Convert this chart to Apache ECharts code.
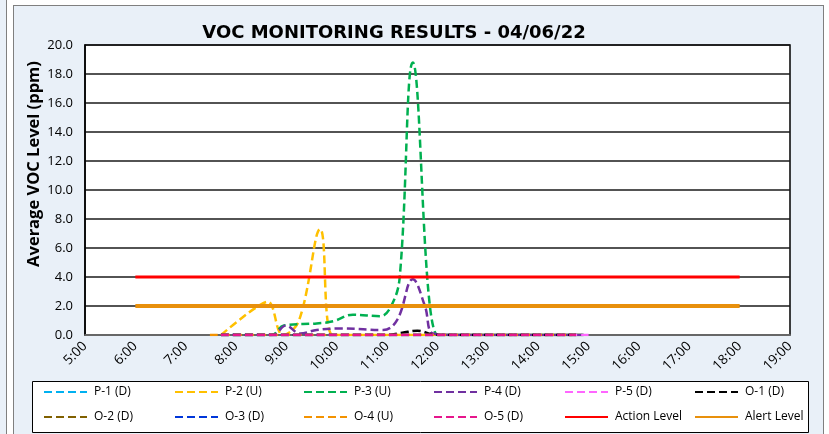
<!DOCTYPE html>
<html>
<head>
<meta charset="utf-8">
<script src="https://cdn.jsdelivr.net/npm/echarts@6/dist/echarts.min.js"></script>
<style>
  body { margin: 0; background: #fff; overflow: hidden; }
  #strip { position: absolute; left: -1px; top: -1px; width: 6px; height: 500px; background: #e9f0f8; border: 1px solid #7f7f7f; }
  #chart { position: absolute; left: 13px; top: 5px; width: 809px; height: 440px; background: #e9f0f8; border: 1px solid #7f7f7f; }
</style>
</head>
<body>
<div id="strip"></div>
<div id="chart"></div>
<script>
// hours as decimals, values in ppm
const p1 = [[7.7, 0], [14.9, 0]];
const p2 = [[7.7, 0], [8.05, 1.0], [8.4, 1.9], [8.63, 2.3], [8.93, 0], [9.25, 1.0], [9.67, 7.3], [9.92, 0], [10.3, 0], [14.9, 0]];
const p3 = [[7.7, 0], [8.7, 0], [8.95, 0.65], [9.6, 0.8], [9.93, 0.95], [10.32, 1.4], [10.86, 1.3], [11.08, 2.0], [11.25, 4.0], [11.51, 18.8], [12.0, 0], [12.3, 0], [14.9, 0]];
const p4 = [[7.7, 0], [8.73, 0], [8.99, 0.65], [9.27, 0.1], [9.6, 0.35], [10.06, 0.45], [10.92, 0.35], [11.2, 1.05], [11.51, 3.85], [11.75, 2.0], [11.91, 0.1], [12.3, 0], [14.9, 0]];
const p5 = [[7.7, 0], [15.0, 0]];
const o1 = [[7.7, 0], [11.0, 0], [11.3, 0.15], [11.6, 0.3], [11.9, 0.05], [12.2, 0], [14.75, 0]];
const o2 = [[7.7, 0], [14.75, 0]];
const o3 = [[7.7, 0], [14.75, 0]];
const o4 = [[7.48, 0], [14.75, 0]];
const o5 = [[7.7, 0], [14.75, 0]];
const actionLevel = [[6, 4], [18, 4]];
const alertLevel = [[6, 2], [18, 2]];

const hourTicks = [5, 6, 7, 8, 9, 10, 11, 12, 13, 14, 15, 16, 17, 18, 19];
const yTicks = [0, 2, 4, 6, 8, 10, 12, 14, 16, 18, 20];

const dashed = [
  { name: "P-1 (D)", data: p1, color: "#00b0f0" },
  { name: "P-2 (U)", data: p2, color: "#ffc000" },
  { name: "P-3 (U)", data: p3, color: "#00b050" },
  { name: "P-4 (D)", data: p4, color: "#7030a0" },
  { name: "P-5 (D)", data: p5, color: "#ff66ff" },
  { name: "O-1 (D)", data: o1, color: "#000000" },
  { name: "O-2 (D)", data: o2, color: "#806000" },
  { name: "O-3 (D)", data: o3, color: "#0036d9" },
  { name: "O-4 (U)", data: o4, color: "#f39200" },
  { name: "O-5 (D)", data: o5, color: "#e6168c" },
];

const legendColumns = [
  ["P-1 (D)", "O-2 (D)"],
  ["P-2 (U)", "O-3 (D)"],
  ["P-3 (U)", "O-4 (U)"],
  ["P-4 (D)", "O-5 (D)"],
  ["P-5 (D)", "Action Level"],
  ["O-1 (D)", "Alert Level"],
];
const legendLeft = [29, 160, 289, 419, 550, 680];

const font = "Open Sans";

const renderChart = () => {
  const myChart = echarts.init(document.getElementById("chart"));

  const series = dashed.map((s) => ({
    name: s.name,
    type: "line",
    data: s.data,
    smooth: 0.4,
    symbol: "none",
    color: s.color,
    lineStyle: { color: s.color, width: 2.5, type: [8, 4] },
    emphasis: { disabled: true },
  }));
  series.push({
    name: "Action Level",
    type: "line",
    data: actionLevel,
    symbol: "none",
    color: "#ff0000",
    lineStyle: { color: "#ff0000", width: 3 },
    emphasis: { disabled: true },
  });
  series.push({
    name: "Alert Level",
    type: "line",
    data: alertLevel,
    symbol: "none",
    color: "#e8900c",
    lineStyle: { color: "#e8900c", width: 4 },
    emphasis: { disabled: true },
  });

  // one legend per column so the columns line up like the original
  const legends = legendColumns.map((col, i) => ({
    orient: "vertical",
    left: legendLeft[i],
    top: 380,
    itemWidth: 43,
    itemHeight: 14,
    itemGap: 13,
    padding: 0,
    data: col,
    itemStyle: { opacity: 0 },
    textStyle: { fontFamily: font, fontSize: 12, color: "#000", padding: [0, 0, 0, 2] },
  }));

  const option = {
    animation: false,
    backgroundColor: "transparent",
    title: {
      text: "VOC MONITORING RESULTS - 04/06/22",
      left: 375,
      top: 13,
      textAlign: "center",
      textStyle: { fontFamily: "DejaVu Sans", fontSize: 18, fontWeight: "bold", color: "#000" },
    },
    graphic: [
      {
        type: "rect",
        shape: { x: 18.5, y: 375.5, width: 776, height: 51 },
        style: { fill: "#fff", stroke: "#000", lineWidth: 1 },
        z: -1,
      },
      {
        type: "text",
        x: 20,
        y: 158,
        rotation: Math.PI / 2,
        style: {
          text: "Average VOC Level (ppm)",
          fontFamily: font,
          fontSize: 16.5,
          fontWeight: "bold",
          fill: "#000",
          align: "center",
          verticalAlign: "middle",
        },
      },
    ],
    legend: legends,
    grid: {
      left: 71,
      top: 39,
      width: 705,
      height: 290,
      show: true,
      backgroundColor: "#fff",
      borderColor: "#000",
      borderWidth: 1.5,
    },
    xAxis: {
      type: "value",
      min: hourTicks[0],
      max: hourTicks[hourTicks.length - 1],
      interval: 1,
      axisLine: { lineStyle: { color: "#7f7f7f", width: 1.5 } },
      axisTick: { show: false },
      splitLine: { show: false },
      axisLabel: {
        rotate: 45,
        margin: 9,
        fontFamily: font,
        fontSize: 13.5,
        color: "#000",
        formatter: (v) => v + ":00",
      },
    },
    yAxis: {
      type: "value",
      min: yTicks[0],
      max: yTicks[yTicks.length - 1],
      interval: 2,
      axisLine: { show: true, lineStyle: { color: "#000", width: 1.5 } },
      axisTick: { show: false },
      splitLine: { lineStyle: { color: "#1a1a1a", width: 1.5 } },
      axisLabel: {
        margin: 12,
        fontFamily: font,
        fontSize: 13,
        color: "#000",
        formatter: (v) => v.toFixed(1),
      },
    },
    series: series,
  };

  myChart.setOption(option);
};

document.addEventListener("DOMContentLoaded", renderChart);
</script>
</body>
</html>
